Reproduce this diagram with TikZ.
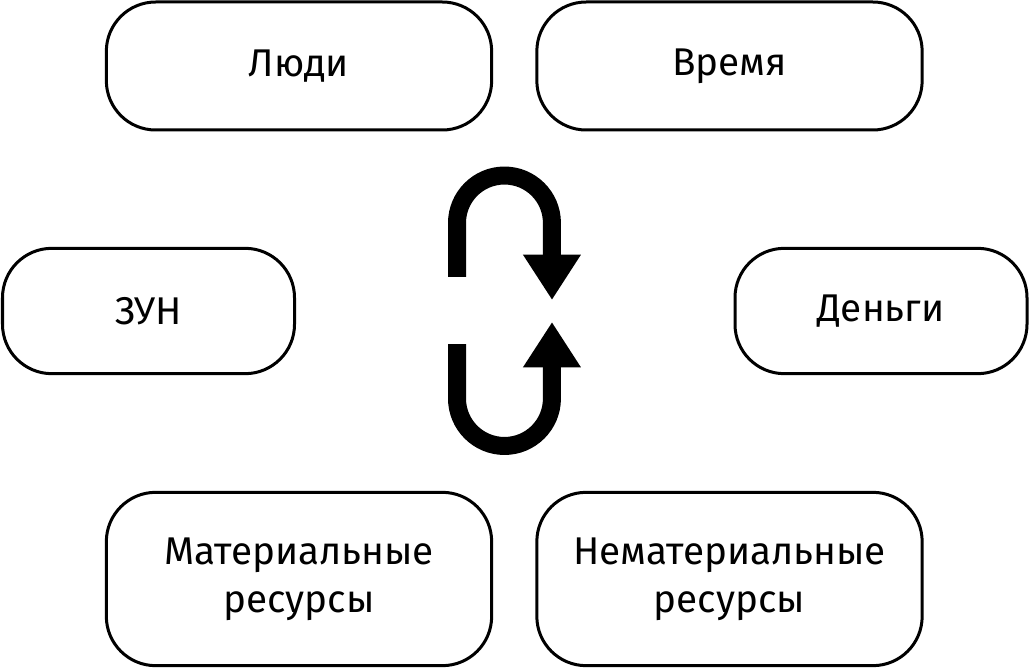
\documentclass[tikz,border=0pt]{standalone}
\usepackage{fontspec}
\setmainfont{Fira Sans}
\usetikzlibrary{arrows.meta}
\tikzset{
  res/.style={draw, line width=2.25pt, rounded corners=37pt, align=center, inner sep=0pt,
    font=\fontsize{29}{36}\selectfont},
  wide/.style={res, minimum width=289pt, minimum height=96pt},
  narrow/.style={res, minimum width=219pt, minimum height=94pt},
  tall/.style={res, minimum width=289pt, minimum height=130pt},
  cycle/.style={line width=13.5pt, -{Triangle[width=41pt, length=34pt]}},
}
\begin{document}
\begin{tikzpicture}[x=0.75pt, y=0.75pt]
  \useasboundingbox (0,0) rectangle (1029,669);
  \node[wide] (people) at (299,603) {Люди};
  \node[wide] (time) at (729.5,603) {Время};
  \node[narrow] (skills) at (148.5,358) {ЗУН};
  \node[narrow] (money) at (881,358) {Деньги};
  \node[tall] (material) at (299,90) {Материальные\\ресурсы};
  \node[tall] (nonmaterial) at (729.5,90) {Нематериальные\\ресурсы};

  % the cycle in the middle
  \coordinate (upstart) at (457,392);
  \coordinate (upend) at (552,369);
  \coordinate (downstart) at (457,325);
  \coordinate (downend) at (552,347);
  \draw[cycle] (upstart) -- ++(0,54) arc[start angle=180, end angle=0, radius=35.6pt] -- (upend);
  \draw[cycle] (downstart) -- ++(0,-54.5) arc[start angle=180, end angle=360, radius=35.6pt] -- (downend);
\end{tikzpicture}
\end{document}
